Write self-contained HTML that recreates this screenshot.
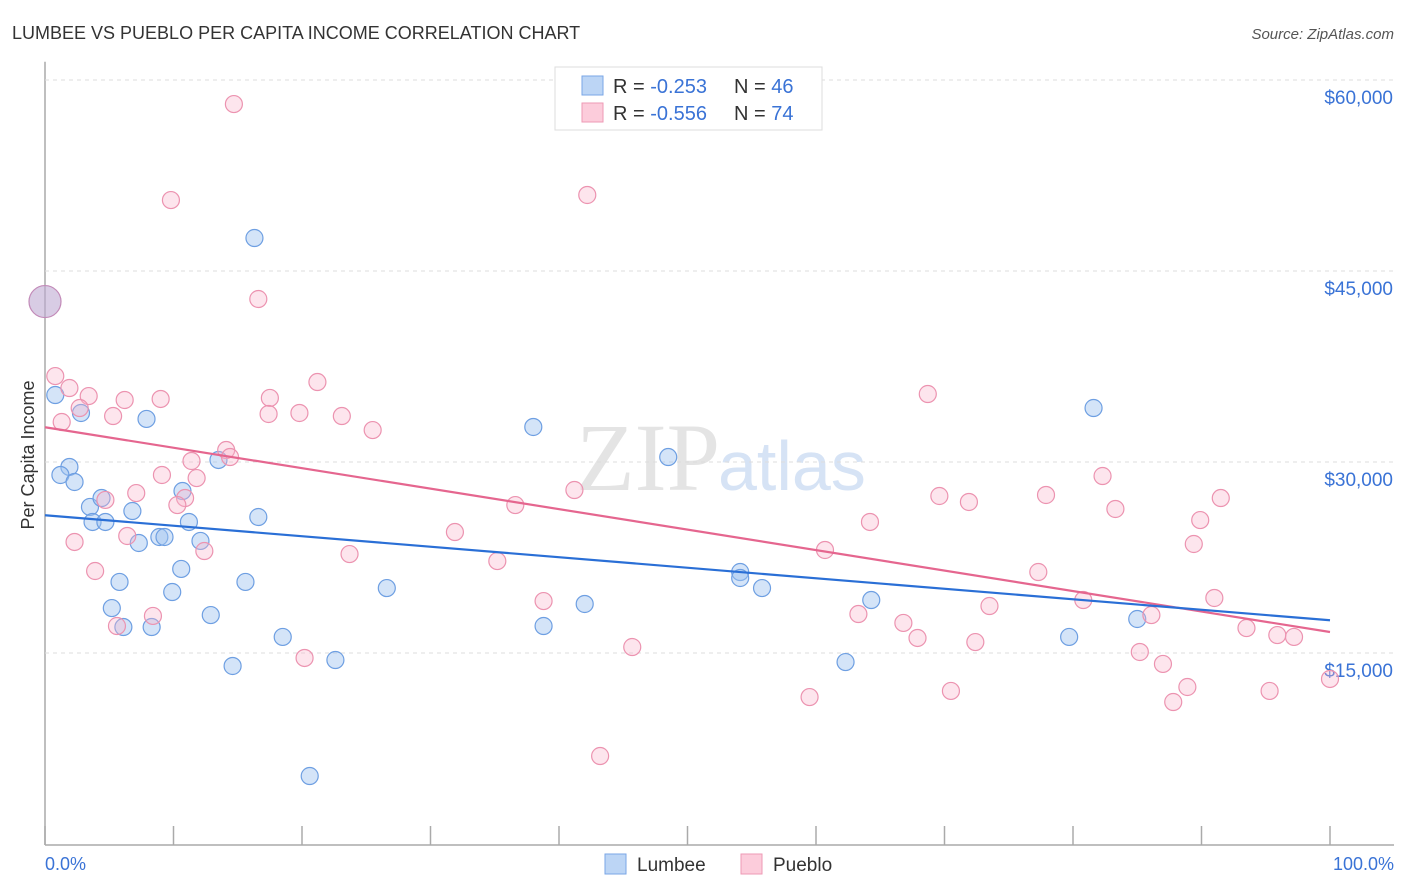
<!DOCTYPE html>
<html><head><meta charset="utf-8"><style>
body{margin:0;background:#fff;font-family:"Liberation Sans",sans-serif;}
#wrap{position:relative;width:1406px;height:892px;overflow:hidden;}
</style></head><body>
<div id="wrap">
<svg id="svg" width="1406" height="892" xmlns="http://www.w3.org/2000/svg">
<text x="12" y="39" font-size="18" fill="#333">LUMBEE VS PUEBLO PER CAPITA INCOME CORRELATION CHART</text>
<text x="1394" y="39" font-size="15" fill="#555" text-anchor="end" font-style="italic">Source: ZipAtlas.com</text>
<text x="720" y="490" font-size="96" fill="#e4e4e4" text-anchor="end" font-family="Liberation Serif,serif">ZIP</text>
<text x="718" y="490" font-size="70" fill="#d6e3f5">atlas</text>
<text transform="translate(34,455) rotate(-90)" font-size="18" fill="#333" text-anchor="middle">Per Capita Income</text>
<g id="grid"></g><g id="marks"></g>
<g>
<rect x="555" y="67" width="267" height="63" fill="#fff" stroke="#ddd"/>
<rect x="582" y="76" width="21" height="19" fill="#bcd5f5" stroke="#7aa6e6"/>
<rect x="582" y="103" width="21" height="19" fill="#fcccdb" stroke="#ee9ab5"/>
<text x="613" y="93" font-size="20" fill="#333">R = <tspan fill="#3a73d6">-0.253</tspan><tspan x="734">N = </tspan><tspan fill="#3a73d6">46</tspan></text>
<text x="613" y="120" font-size="20" fill="#333">R = <tspan fill="#3a73d6">-0.556</tspan><tspan x="734">N = </tspan><tspan fill="#3a73d6">74</tspan></text>
</g>
<g>
<rect x="605" y="854" width="21" height="20" fill="#bcd5f5" stroke="#7aa6e6"/>
<text x="637" y="871" font-size="19" fill="#333">Lumbee</text>
<rect x="741" y="854" width="21" height="20" fill="#fcccdb" stroke="#ee9ab5"/>
<text x="773" y="871" font-size="19" fill="#333">Pueblo</text>
</g>
<text x="45" y="870" font-size="18" fill="#3a73d6">0.0%</text>
<text x="1394" y="870" font-size="18" fill="#3a73d6" text-anchor="end">100.0%</text>
</svg>
</div>
<script>
const yTicks=[15000,30000,45000,60000];
const yTickLabels=["$15,000","$30,000","$45,000","$60,000"];
const lumbeeX=[0.8,2.8,7.9,1.9,1.2,2.3,3.5,4.4,3.7,4.7,6.8,10.7,11.2,8.9,9.3,7.3,12.1,13.5,16.6,16.3,5.8,10.6,9.9,15.6,5.2,6.1,8.3,12.9,18.5,14.6,22.6,20.6,26.6,38.0,48.5,38.8,42.0,54.1,54.1,55.8,64.3,62.3,81.6,79.7,85.0];
const lumbeeY=[35.26,33.85,33.38,29.61,28.98,28.43,26.47,27.17,25.29,25.29,26.15,27.72,25.29,24.11,24.11,23.64,23.80,30.16,25.68,47.59,20.58,21.60,19.79,20.58,18.53,17.04,17.04,17.98,16.26,13.98,14.45,5.34,20.10,32.75,30.39,17.12,18.85,21.36,20.89,20.10,19.16,14.29,34.24,16.26,17.67];
const puebloX=[14.7,9.8,42.2,16.6,0.8,1.9,3.4,2.7,6.2,1.3,5.3,9.0,17.5,21.2,19.8,17.4,23.1,25.5,14.1,14.4,11.4,9.1,11.8,10.9,10.3,7.1,4.7,2.3,6.4,3.9,12.4,23.7,31.9,35.2,36.6,41.2,38.8,5.6,8.4,20.2,45.7,43.2,59.5,60.7,63.3,64.2,66.8,67.9,68.7,69.6,71.9,70.5,72.4,73.5,77.3,77.9,80.8,82.3,83.3,85.2,86.1,87.0,87.8,88.9,89.4,89.9,91.0,91.5,93.5,95.3,95.9,97.2,100];
const puebloY=[58.11,50.57,50.97,42.80,36.75,35.81,35.18,34.24,34.87,33.14,33.61,34.95,35.03,36.28,33.85,33.77,33.61,32.51,30.94,30.39,30.08,28.98,28.74,27.17,26.62,27.56,27.02,23.72,24.19,21.44,23.01,22.77,24.50,22.22,26.62,27.80,19.08,17.12,17.91,14.61,15.47,6.91,11.54,23.09,18.06,25.29,17.36,16.18,35.34,27.33,26.86,12.02,15.86,18.69,21.36,27.41,19.16,28.90,26.31,15.08,17.98,14.14,11.15,12.33,23.56,25.44,19.32,27.17,16.96,12.02,16.41,16.26,12.96];
const bigPoint=[0,42.6];
const lumbeeTrend=[25.82,17.57];
const puebloTrend=[32.73,16.65];
const NS="http://www.w3.org/2000/svg";
const X=p=>45+p*12.85;
const Y=v=>844-v*191/15000;
const Yk=k=>Y(k*1000);
function mk(t,a,parent){const e=document.createElementNS(NS,t);for(const k in a)e.setAttribute(k,a[k]);parent.appendChild(e);return e;}
const grid=document.getElementById('grid'),marks=document.getElementById('marks');
let e=mk('line',{x1:45,y1:Y(63000)+20,x2:45,y2:845,stroke:'#aaa','stroke-width':1.5},grid);


e=mk('line',{x1:45,y1:845,x2:1394,y2:845,stroke:'#aaa','stroke-width':1.5},grid);


e=mk('line',{x1:45,y1:80,x2:1394,y2:80,stroke:'#ddd','stroke-dasharray':'4,4'},grid);


yTicks.forEach((v,i)=>{
 const g=mk('line',{x1:45,y1:Y(v),x2:1394,y2:Y(v),stroke:'#ddd','stroke-dasharray':'4,4'},grid);
 
 
 const t=mk('text',{x:1393,y:Y(v)+24,'font-size':19,fill:'#3a73d6','text-anchor':'end'},grid);
 t.textContent=yTickLabels[i];
 
 
});
for(let i=0;i<=10;i++){
 const t=mk('line',{x1:X(i*10),y1:826,x2:X(i*10),y2:845,stroke:'#aaa','stroke-width':1.5},grid);
 
 
}
function pts(xs,ys,fill,stroke,name){
 xs.forEach((x,i)=>{
  const c=mk('circle',{cx:X(x),cy:Yk(ys[i]),r:8.5,fill:fill,stroke:stroke,'stroke-width':1.2},marks);
  
  
 });
}
pts(lumbeeX,lumbeeY,'rgba(160,196,240,0.45)','#6e9fe2','lumbee-point');
pts(puebloX,puebloY,'rgba(248,180,202,0.35)','#ec93b0','pueblo-point');
e=mk('circle',{cx:X(bigPoint[0]),cy:Yk(bigPoint[1]),r:16,fill:'rgba(190,170,210,0.6)',stroke:'#c28ab8','stroke-width':1.2},marks);


e=mk('line',{x1:X(0),y1:Yk(puebloTrend[0]),x2:X(100),y2:Yk(puebloTrend[1]),stroke:'#e5668f','stroke-width':2.2},marks);


e=mk('line',{x1:X(0),y1:Yk(lumbeeTrend[0]),x2:X(100),y2:Yk(lumbeeTrend[1]),stroke:'#2a6fd6','stroke-width':2.2},marks);


</script>
</body></html>
